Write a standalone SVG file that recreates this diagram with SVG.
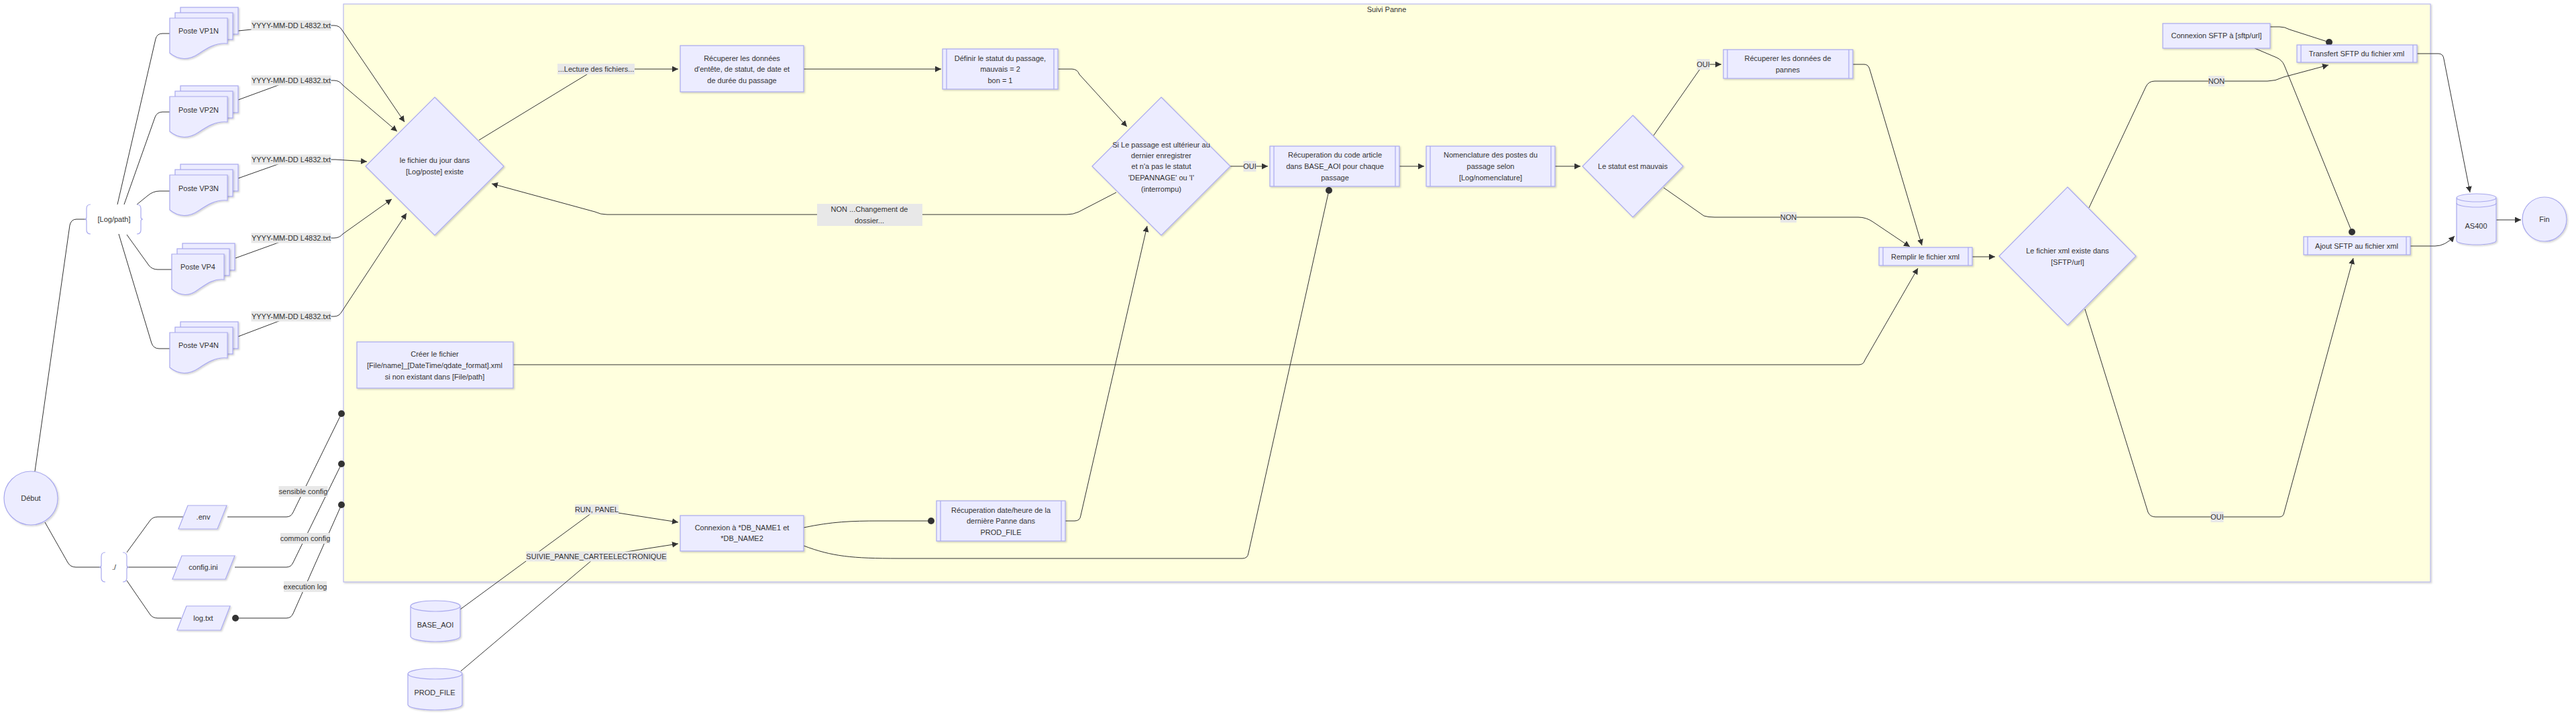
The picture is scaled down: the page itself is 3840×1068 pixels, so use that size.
<svg xmlns="http://www.w3.org/2000/svg" width="3840" height="1068" viewBox="0 0 3840 1068">
<style>
text{font-family:"Liberation Sans",Arial,sans-serif;font-size:11px;fill:#333;text-anchor:middle;dominant-baseline:central}
.n{fill:#ECECFF;stroke:#a9a9ee;stroke-width:1.2;filter:url(#sh)}
.sl{stroke:#a9a9ee;stroke-width:1.2;fill:none}
.br{fill:none;stroke:#a9a9ee;stroke-width:1.2}
.e{fill:none;stroke:#333;stroke-width:1}
.a{marker-end:url(#arr)}
.d{marker-end:url(#dot)}
.lb{fill:#e8e8e8}
.cl{fill:#ffffde;stroke:#b9b9ef;stroke-width:1.2;filter:url(#sh)}
</style>
<defs>
<filter id="sh" x="-10%" y="-10%" width="130%" height="130%"><feDropShadow dx="1.5" dy="1.5" stdDeviation="1" flood-color="#000" flood-opacity="0.18"/></filter>
<marker id="arr" viewBox="0 0 10 10" refX="10" refY="5" markerWidth="9" markerHeight="9" markerUnits="userSpaceOnUse" orient="auto"><path d="M0,0 L10,5 L0,10 z" fill="#333"/></marker>
<marker id="dot" viewBox="0 0 10 10" refX="5" refY="5" markerWidth="10" markerHeight="10" markerUnits="userSpaceOnUse"><circle cx="5" cy="5" r="5" fill="#333"/></marker>
</defs>
<rect width="3840" height="1068" fill="#fff"/>
<g id="cluster-suivi">
<rect class="cl" x="512" y="6" width="3111" height="862"/>
<text x="2067" y="14">Suivi Panne</text>
</g>
<g id="edges">
<path class="e" d="M52,703 L104,336 Q106,327 114,327 L129,327"/>
<path class="e" d="M67,779 L101,839 Q105,846 113,846 L151,846"/>
<path class="e" d="M175,305 L232,58 Q234,50 242,50 L253,50"/>
<path class="e" d="M185,305 L231,175 Q234,167 242,167 L253,167"/>
<path class="e" d="M204,305 L220,292 Q228,285 238,285 L253,285"/>
<path class="e" d="M189,350 L222,396 Q227,402 235,402 L256,402"/>
<path class="e" d="M177,349 L226,512 Q229,520 237,520 L253,520"/>
<path class="e" d="M189,824 L224,776 Q228,771 235,771 L274,771"/>
<path class="e" d="M189,846 L263,846"/>
<path class="e" d="M189,866 L224,917 Q228,922 235,922 L270,922"/>
<path class="e d" d="M339,771 L427,771 Q434,771 437,764 L509,617"/>
<path class="e d" d="M350,846 L427,846 Q434,846 437,839 L509,692"/>
<path class="e d" d="M351,922 L427,922 Q434,922 437,915 L509,753" marker-start="url(#dot)"/>
<path class="e a" d="M355,46 L434,38 L498,38 Q506,38 510,45 L603,182"/>
<path class="e a" d="M355,149 L434,120 L498,120 Q506,120 511,127 L592,196"/>
<path class="e a" d="M355,266 L434,238 L500,238 L547,241"/>
<path class="e a" d="M351,385 L434,355 L498,355 Q506,355 511,349 L584,297"/>
<path class="e a" d="M355,502 L434,472 L498,472 Q506,472 510,464 L606,318"/>
<path class="e a" d="M714,209 L888,103 L1011,103"/>
<path class="e a" d="M1198,103 L1403,103"/>
<path class="e a" d="M1577,103 L1598,103 Q1606,103 1609,111 L1680,189"/>
<path class="e a" d="M1664,287 L1608,316 Q1600,320 1590,320 L905,320 Q895,320 887,316 L733,274"/>
<path class="e a" d="M1834,248 L1890,248"/>
<path class="e a" d="M2086,248 L2123,248"/>
<path class="e a" d="M2318,248 L2356,248"/>
<path class="e a" d="M2465,202 L2539,96 L2566,96"/>
<path class="e a" d="M2480,280 L2540,322 Q2546,324 2556,324 L2770,324 Q2782,324 2792,331 L2847,368"/>
<path class="e a" d="M2762,96 L2779,96 Q2785,96 2787,103 L2865,366"/>
<path class="e a" d="M765,544 L2771,544 Q2778,544 2780,537 L2859,400"/>
<path class="e a" d="M2940,383 L2974,383"/>
<path class="e a" d="M3114,310 L3199,129 Q3203,121 3212,121 L3380,121 Q3392,121 3404,115 L3471,97"/>
<path class="e a" d="M3108,461 L3202,764 Q3205,771 3213,771 L3398,771 Q3404,771 3405,764 L3508,385"/>
<path class="e d" d="M3384,40 L3398,40 Q3406,40 3413,44 L3472,63"/>
<path class="e d" d="M3361,72 L3394,86 Q3402,90 3405,97 L3506,346"/>
<path class="e a" d="M3603,80 L3635,80 Q3642,80 3643,88 L3682,287"/>
<path class="e a" d="M3593,367 L3630,367 Q3645,367 3659,352"/>
<path class="e a" d="M3721,328 L3758,328"/>
<path class="e a" d="M686,909 L889,760 L1011,779"/>
<path class="e a" d="M687,1001 L889,830 L1011,811"/>
<path class="e d" d="M1198,787 C1240,778 1270,777 1310,777 L1388,777"/>
<path class="e d" d="M1198,814 C1240,830 1270,833 1340,833 L1852,833 Q1860,833 1861,825 L1981,284"/>
<path class="e a" d="M1588,777 L1602,777 Q1610,777 1611,769 L1710,337"/>
</g>
<g id="edge-labels">
<rect class="lb" x="374.5" y="30.5" width="119" height="15"/><text x="434" y="38">YYYY-MM-DD L4832.txt</text>
<rect class="lb" x="374.5" y="112.5" width="119" height="15"/><text x="434" y="120">YYYY-MM-DD L4832.txt</text>
<rect class="lb" x="374.5" y="230.5" width="119" height="15"/><text x="434" y="238">YYYY-MM-DD L4832.txt</text>
<rect class="lb" x="374.5" y="347.5" width="119" height="15"/><text x="434" y="355">YYYY-MM-DD L4832.txt</text>
<rect class="lb" x="374.5" y="464.5" width="119" height="15"/><text x="434" y="472">YYYY-MM-DD L4832.txt</text>
<rect class="lb" x="415.5" y="725" width="73" height="16"/><text x="452" y="733">sensible config</text>
<rect class="lb" x="418" y="795" width="74" height="16"/><text x="455" y="803">common config</text>
<rect class="lb" x="423" y="867" width="64" height="16"/><text x="455" y="875">execution log</text>
<rect class="lb" x="831" y="95" width="115" height="16"/><text x="888.5" y="103">...Lecture des fichiers...</text>
<rect class="lb" x="1218" y="304" width="157" height="33"/><text x="1296" y="312">NON ...Changement de</text><text x="1296" y="329">dossier...</text>
<rect class="lb" x="1853.5" y="240" width="19" height="16"/><text x="1863" y="248">OUI</text>
<rect class="lb" x="2529.5" y="88" width="19" height="16"/><text x="2539" y="96">OUI</text>
<rect class="lb" x="2654" y="316" width="24" height="16"/><text x="2666" y="324">NON</text>
<rect class="lb" x="3292" y="113" width="24" height="16"/><text x="3304" y="121">NON</text>
<rect class="lb" x="3295.5" y="763" width="19" height="16"/><text x="3305" y="771">OUI</text>
<rect class="lb" x="857" y="752.5" width="65" height="15"/><text x="889.5" y="760">RUN, PANEL</text>
<rect class="lb" x="784" y="822.5" width="210" height="15"/><text x="889" y="830">SUIVIE_PANNE_CARTEELECTRONIQUE</text>
</g>
<g id="debut"><circle class="n" cx="46" cy="743" r="40"/><text x="46" y="743">Début</text></g>
<g id="logpath"><path class="br" d="M135,305 Q129,305 129,311 L129,324 Q129,327 126,327 Q129,327 129,330 L129,343 Q129,349 135,349"/><path class="br" d="M204,305 Q210,305 210,311 L210,324 Q210,327 213,327 Q210,327 210,330 L210,343 Q210,349 204,349"/><text x="170" y="327">[Log/path]</text></g>
<g id="root"><path class="br" d="M157,824 Q151,824 151,830 L151,843 Q151,846 148,846 Q151,846 151,849 L151,862 Q151,868 157,868"/><path class="br" d="M183,824 Q189,824 189,830 L189,843 Q189,846 192,846 Q189,846 189,849 L189,862 Q189,868 183,868"/><text x="170" y="846">./</text></g>
<g id="vp1n" transform="translate(253,27)"><rect class="n" x="16" y="-16" width="86" height="40"/><rect class="n" x="8" y="-8" width="86" height="40"/><path class="n" d="M0,0 H86 V38 C68,36 54,46 42,54 C30,62 14,64 0,52 Z"/><text x="43" y="19">Poste VP1N</text></g>
<g id="vp2n" transform="translate(253,144)"><rect class="n" x="16" y="-16" width="86" height="40"/><rect class="n" x="8" y="-8" width="86" height="40"/><path class="n" d="M0,0 H86 V38 C68,36 54,46 42,54 C30,62 14,64 0,52 Z"/><text x="43" y="20">Poste VP2N</text></g>
<g id="vp3n" transform="translate(253,261)"><rect class="n" x="16" y="-16" width="86" height="40"/><rect class="n" x="8" y="-8" width="86" height="40"/><path class="n" d="M0,0 H86 V38 C68,36 54,46 42,54 C30,62 14,64 0,52 Z"/><text x="43" y="20">Poste VP3N</text></g>
<g id="vp4" transform="translate(256,379)"><rect class="n" x="16" y="-16" width="78" height="40"/><rect class="n" x="8" y="-8" width="78" height="40"/><path class="n" d="M0,0 H78 V38 C62,36 50,46 38,54 C28,62 13,64 0,52 Z"/><text x="39" y="19">Poste VP4</text></g>
<g id="vp4n" transform="translate(253,496)"><rect class="n" x="16" y="-16" width="86" height="40"/><rect class="n" x="8" y="-8" width="86" height="40"/><path class="n" d="M0,0 H86 V38 C68,36 54,46 42,54 C30,62 14,64 0,52 Z"/><text x="43" y="19">Poste VP4N</text></g>
<g id="env"><polygon class="n" points="280,754 338,754 324,789 266,789"/><text x="303" y="771">.env</text></g>
<g id="configini"><polygon class="n" points="271,829 350,829 336,864 257,864"/><text x="303" y="846">config.ini</text></g>
<g id="logtxt"><polygon class="n" points="278,904 343,904 329,940 264,940"/><text x="303" y="922">log.txt</text></g>
<g id="base-aoi"><path class="n" d="M612,904 a37,8 0 0 0 74,0 a37,8 0 0 0 -74,0 l0,45 a37,8 0 0 0 74,0 l0,-45"/><text x="649" y="932">BASE_AOI</text></g>
<g id="prod-file"><path class="n" d="M608,1005 a40.5,8 0 0 0 81,0 a40.5,8 0 0 0 -81,0 l0,46 a40.5,8 0 0 0 81,0 l0,-46"/><text x="648" y="1033">PROD_FILE</text></g>
<g id="fichier-jour"><polygon class="n" points="648,145 751,248 648,351 545,248"/><text x="648" y="239">le fichier du jour dans</text><text x="648" y="256">[Log/poste] existe</text></g>
<g id="recup-entete"><rect class="n" x="1014" y="68" width="184" height="69"/><text x="1106" y="87">Récuperer les données</text><text x="1106" y="103">d'entête, de statut, de date et</text><text x="1106" y="120">de durée du passage</text></g>
<g id="definir"><rect class="n" x="1405" y="73" width="172" height="60"/><path class="sl" d="M1411,73 V133 M1571,73 V133"/><text x="1491" y="87">Définir le statut du passage,</text><text x="1491" y="103">mauvais = 2</text><text x="1491" y="120">bon = 1</text></g>
<g id="passage-ulterieur"><polygon class="n" points="1731,145 1834,248 1731,351 1628,248"/><text x="1731" y="216">Si Le passage est ultérieur au</text><text x="1731" y="232">dernier enregistrer</text><text x="1731" y="248">et n'a pas le statut</text><text x="1731" y="265">'DEPANNAGE' ou 'I'</text><text x="1731" y="282">(interrompu)</text></g>
<g id="recup-code"><rect class="n" x="1893" y="218" width="193" height="60"/><path class="sl" d="M1899,218 V278 M2080,218 V278"/><text x="1990" y="231">Récuperation du code article</text><text x="1990" y="248">dans BASE_AOI pour chaque</text><text x="1990" y="265">passage</text></g>
<g id="nomenclature"><rect class="n" x="2126" y="218" width="192" height="60"/><path class="sl" d="M2132,218 V278 M2312,218 V278"/><text x="2222" y="231">Nomenclature des postes du</text><text x="2222" y="248">passage selon</text><text x="2222" y="265">[Log/nomenclature]</text></g>
<g id="statut-mauvais"><polygon class="n" points="2434,172 2509,248 2434,324 2359,248"/><text x="2434" y="248">Le statut est mauvais</text></g>
<g id="recup-pannes"><rect class="n" x="2569" y="74" width="193" height="43"/><path class="sl" d="M2575,74 V117 M2756,74 V117"/><text x="2665" y="87">Récuperer les données de</text><text x="2665" y="104">pannes</text></g>
<g id="remplir"><rect class="n" x="2801" y="369" width="139" height="27"/><path class="sl" d="M2807,369 V396 M2934,369 V396"/><text x="2870" y="383">Remplir le fichier xml</text></g>
<g id="xml-existe"><polygon class="n" points="3082,279 3184,382 3082,485 2980,382"/><text x="3082" y="374">Le fichier xml existe dans</text><text x="3082" y="391">[SFTP/url]</text></g>
<g id="connexion-sftp"><rect class="n" x="3224" y="35" width="160" height="37"/><text x="3304" y="53">Connexion SFTP à [sftp/url]</text></g>
<g id="transfert"><rect class="n" x="3424" y="67" width="179" height="26"/><path class="sl" d="M3430,67 V93 M3597,67 V93"/><text x="3513" y="80">Transfert SFTP du fichier xml</text></g>
<g id="ajout"><rect class="n" x="3434" y="353" width="159" height="27"/><path class="sl" d="M3440,353 V380 M3587,353 V380"/><text x="3513" y="367">Ajout SFTP au fichier xml</text></g>
<g id="as400"><path class="n" d="M3662,295 a29.5,6 0 0 0 59,0 a29.5,6 0 0 0 -59,0 l0,64 a29.5,6 0 0 0 59,0 l0,-64"/><path class="sl" d="M3662,303 a29.5,6 0 0 0 59,0"/><text x="3691" y="337">AS400</text></g>
<g id="fin"><circle class="n" cx="3793" cy="327" r="33"/><text x="3793" y="327">Fin</text></g>
<g id="creer-fichier"><rect class="n" x="532" y="510" width="233" height="69"/><text x="648" y="528">Créer le fichier</text><text x="648" y="545">[File/name]_[DateTime/qdate_format].xml</text><text x="648" y="562">si non existant dans [File/path]</text></g>
<g id="connexion-db"><rect class="n" x="1014" y="769" width="184" height="53"/><text x="1106" y="787">Connexion à *DB_NAME1 et</text><text x="1106" y="803">*DB_NAME2</text></g>
<g id="recup-date"><rect class="n" x="1396" y="747" width="192" height="60"/><path class="sl" d="M1402,747 V807 M1582,747 V807"/><text x="1492" y="761">Récuperation date/heure de la</text><text x="1492" y="777">dernière Panne dans</text><text x="1492" y="794">PROD_FILE</text></g>
</svg>
